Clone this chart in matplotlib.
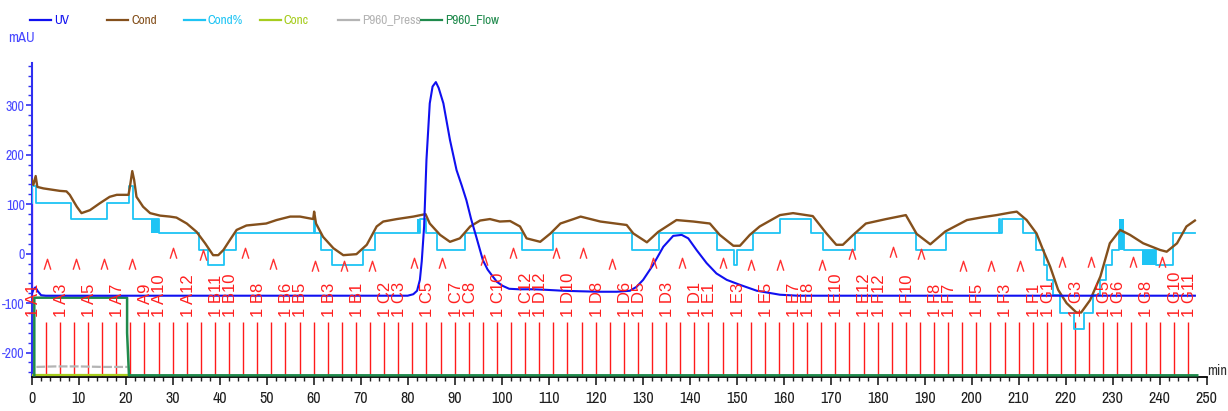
import matplotlib
matplotlib.use("Agg")
import matplotlib.pyplot as plt
from matplotlib import font_manager as fm
from matplotlib.lines import Line2D
from matplotlib.path import Path
from matplotlib.ticker import MultipleLocator

plt.rcParams['axes.unicode_minus'] = False

# UV trace (mAU)
uv_t = [0, 0.4, 0.8, 1.3, 2.0, 3.0, 20, 40, 60, 80, 81.2, 82.0, 82.6, 83.0, 83.5, 84.0,
        84.7, 85.3, 86.0, 86.6, 87.6, 89.0, 90.4, 91.5, 92.5, 93.5, 94.6, 96.0, 97.0,
        98.1, 99.0, 100.2, 101.6, 103.7, 106.6, 109.3, 113.1, 116.6, 120.9, 124.5,
        127.3, 128.7, 130.1, 132.2, 134.4, 136.5, 138.3, 139.7, 141.5, 143.6, 145.7,
        147.9, 150.7, 154.3, 159.2, 163.0, 180, 200, 220, 240, 247.5]
uv_v = [-82, -72, -68, -76, -84, -85, -85, -85, -85, -85, -82, -75, -53, -15, 55, 190,
        304, 338, 347, 335, 304, 230, 169, 138, 108, 70, 34, -13, -32,
        -46, -57, -65, -71, -72, -72, -73, -75, -76, -77, -77,
        -75, -67, -53, -23, 14, 36, 38, 31, 7, -19, -40,
        -53, -63, -75, -83, -85, -85, -85, -85, -85, -85]

# Conductivity
cond_t = [0, 0.35, 0.85, 1.2, 2.5, 6.0, 7.4, 8.1, 9.6, 10.6, 12.4, 14.5, 16.6, 18.1, 20.6,
          20.9, 21.4, 21.8, 22.3, 23.7, 25.2, 27.3, 29.4, 30.8, 33.0, 35.1, 36.9, 38.6,
          39.7, 40.8, 42.2, 43.6, 45.7, 49.9, 52.1, 55.0, 57.1, 59.9, 60.1, 60.5, 62.0,
          64.2, 66.3, 69.1, 71.3, 73.4, 74.8, 77.7, 81.2, 83.8, 84.7, 86.9, 89.0, 91.1,
          93.3, 95.4, 97.5, 99.6, 101.8, 103.9, 105.3, 108.2, 110.4, 112.5, 115.3, 116.8,
          121.0, 126.6, 128.0, 130.9, 133.3, 137.2, 140.8, 144.3, 146.4, 149.3, 150.7,
          152.8, 154.9, 159.2, 162.0, 166.2, 169.1, 171.2, 172.6, 174.8, 177.5, 181.8,
          186.0, 188.3, 191.2, 194.4, 199.0, 202.5, 205.3, 208.2, 209.6, 211.7, 213.8,
          215.2, 216.7, 218.4, 220.2, 222.3, 223.3, 225.2, 227.4, 229.4, 231.6, 233.7,
          236.5, 240.1, 241.5, 243.7, 245.7, 247.5]
cond_v = [150, 139, 157, 135, 132, 127, 126, 119, 95, 82, 88, 102, 115, 119, 119,
          135, 167, 149, 115, 95, 82, 77, 75, 73, 61, 44, 21, -3,
          -3, 7.5, 28, 48, 57, 61, 68, 75, 75, 70, 85, 61, 34,
          11, -3, -1, 18, 55, 65, 70, 75, 80, 61, 38, 24, 31,
          55, 67, 70, 65, 66, 55, 31, 24, 41, 61, 70, 75,
          65, 58, 41, 23, 44, 68, 65, 61, 38, 16, 16,
          38, 55, 78, 82, 76, 41, 18, 18, 38, 61, 70,
          78, 40, 19, 45, 68, 74, 78, 83, 85, 68, 41,
          7.5, -26, -73, -100, -119, -119, -94, -46, 21, 48, 38,
          21, 7.5, 4, 21, 55, 67]

# Cond% step levels (value holds until next time)
condp_t = [0, 0.15, 0.9, 8.4, 16.0, 20.7, 21.6, 27.1, 35.7, 37.6, 41.0, 43.5, 60.0, 60.2,
           61.6, 63.8, 70.6, 73.0, 82.0, 82.6, 84.0, 86.2, 92.3, 104.3, 110.9, 127.7,
           133.5, 145.9, 149.5, 150.0, 153.4, 159.2, 165.8, 168.3, 175.2, 188.1, 194.5,
           205.9, 206.1, 206.4, 210.9, 213.8, 215.3, 216.0, 217.3, 218.8, 221.8, 223.9,
           225.9, 227.3, 228.6, 229.8, 231.3, 232.5, 236.3, 239.3, 242.8, 247.5]
condp_v = [103, 137, 103, 70, 103, 137, 70, 42, 7.5, -23, 7.5, 42, 70, 42,
           7.5, -23, 7.5, 42, 42, 70, 42, 7.5, 42, 7.5, 42, 7.5,
           42, 7.5, -23, 7.5, 42, 70, 42, 7.5, 42, 7.5, 42,
           70, 42, 70, 42, 7.5, -23, -53, -83, -119, -153, -119,
           -83, -53, -23, 7.5, 42, 7.5, 7.5, -23, 42, 42]
# Cond% intervals with rapid switching: (start, end, low, high)
condp_bands = [(25.3, 27.1, 42, 70), (82.0, 82.6, 42, 70),
               (231.3, 232.5, 7.5, 70), (236.3, 239.3, -23, 7.5)]

# Concentration, pressure and flow
conc_t = [0, 20.6]
conc_v = [-246, -246]
press_t = [1.0, 5.0, 10.0, 15.0, 20.4]
press_v = [-229, -228, -228, -229, -229]
flow_t = [0.56, 0.56, 20.3, 20.3, 20.7, 248]
flow_v = [-246, -89, -89, -160, -246, -246]

# Fractions
frac_t = [0, 3, 6, 9, 12, 15, 18, 21, 24, 27, 30, 33, 36, 39, 42, 45, 48, 51, 54, 57, 60,
          63, 66, 69, 72, 75, 78, 81, 84, 87, 90, 93, 96, 99, 102, 105, 108, 111, 114,
          117, 120, 123, 126, 129, 132, 135, 138, 141, 144, 147, 150, 153, 156, 159, 162,
          165, 168, 171, 174, 177, 180, 183, 186, 189, 192, 195, 198, 201, 204, 207, 210,
          213, 216, 219, 222, 225, 228, 231, 234, 237, 240, 243, 246]
frac_names = ['A1', 'A2', 'A3', 'A4', 'A5', 'A6', 'A7', 'A8', 'A9', 'A10', 'A11', 'A12',
              'B12', 'B11', 'B10', 'B9', 'B8', 'B7', 'B6', 'B5', 'B4', 'B3', 'B2', 'B1',
              'C1', 'C2', 'C3', 'C4', 'C5', 'C6', 'C7', 'C8', 'C9', 'C10', 'C11', 'C12',
              'D12', 'D11', 'D10', 'D9', 'D8', 'D7', 'D6', 'D5', 'D4', 'D3', 'D2', 'D1',
              'E1', 'E2', 'E3', 'E4', 'E5', 'E6', 'E7', 'E8', 'E9', 'E10', 'E11', 'E12',
              'F12', 'F11', 'F10', 'F9', 'F8', 'F7', 'F6', 'F5', 'F4', 'F3', 'F2', 'F1',
              'G1', 'G2', 'G3', 'G4', 'G5', 'G6', 'G7', 'G8', 'G9', 'G10', 'G11']
frac_shown = ['A1', 'A3', 'A5', 'A7', 'A9', 'A10', 'A12', 'B11', 'B10', 'B8', 'B6', 'B5',
              'B3', 'B1', 'C2', 'C3', 'C5', 'C7', 'C8', 'C10', 'C12', 'D12', 'D10', 'D8',
              'D6', 'D5', 'D3', 'D1', 'E1', 'E3', 'E5', 'E7', 'E8', 'E10', 'E12', 'F12',
              'F10', 'F8', 'F7', 'F5', 'F3', 'F1', 'G1', 'G3', 'G5', 'G6', 'G8', 'G10', 'G11']

# Logbook marks
mark_t = [3.2, 9.4, 15.4, 21.3, 30.1, 36.4, 45.4, 51.4, 60.3, 66.5, 72.5, 81.4, 87.4,
          96.2, 102.4, 111.5, 117.4, 123.4, 132.2, 138.3, 147.1, 153.1, 159.3, 168.2,
          174.5, 183.3, 189.3, 198.2, 204.2, 210.3, 219.2, 225.3, 234.4, 240.4]
mark_v = [-20, -20, -20, -20, 2, -2, 2, -20, -25, -25, -25, -18, -18,
          -13, 2, 2, 2, -21, -19, -19, -19, -23, -23, -23,
          0, 4, 0, -25, -25, -25, -16, -16, -16, -16]

series_names = ['UV', 'Cond', 'Cond%', 'Conc', 'P960_Press', 'P960_Flow']
series_colors = ['#1010f0', '#84501c', '#1ec4f4', '#a6cc1e', '#b4b4b4', '#1f8a4c']

c_uv, c_cond, c_condp, c_conc, c_press, c_flow = series_colors
axis_blue = '#3030f0'

# narrow face for the axis and legend text, if one is installed
narrow = [f for f in fm.fontManager.ttflist
          if f.style == 'normal' and f.weight in (400, 'normal', 'regular')
          and ('Narrow' in f.name or 'Condensed' in f.name
               or f.stretch in ('condensed', 'semi-condensed'))]
narrow.sort(key=lambda f: 'Narrow' not in f.name)
if narrow:
    face = dict(fname=narrow[0].fname)
else:
    face = dict(family='Liberation Sans')
ytick_fp = fm.FontProperties(size=10, **face)
xtick_fp = fm.FontProperties(size=11.5, **face)
unit_fp = fm.FontProperties(size=10.5, **face)
legend_fp = fm.FontProperties(size=9.5, **face)

fig = plt.figure(figsize=(12.28, 4.11), dpi=100)
ax = fig.add_axes([0.0258, 0.0832, 0.9568, 0.7628])

# fractions
ax.vlines(frac_t, -249, -139, color='#ff1a1a', lw=1.0, zorder=2)
for t, name in zip(frac_t, frac_names):
    if name in frac_shown:
        ax.text(t + 0.3, -129, '1 ' + name, rotation=90, ha='center', va='bottom',
                color='#ff2020', fontsize=12, family=['Liberation Sans', 'DejaVu Sans'],
                zorder=6)

chevron = Path([(-0.32, -0.5), (0, 0.5), (0.32, -0.5)])
ax.plot(mark_t, mark_v, ls='none', marker=chevron, ms=7.5, mfc='none',
        mec='#ff3030', mew=1.0, zorder=6)

ax.axvline(0.15, ymin=0, ymax=0.6, color='#ff30ff', lw=1.0, zorder=1)

ax.plot(conc_t, conc_v, color=c_conc, lw=1.6, zorder=3)
ax.plot(press_t, press_v, color=c_press, lw=1.6, ls=(0, (4, 1)), zorder=3)
ax.plot(flow_t, flow_v, color=c_flow, lw=1.8, zorder=3)

ax.step(condp_t, condp_v, where='post', color=c_condp, lw=1.3, zorder=4)
for t0, t1, lo, hi in condp_bands:
    ax.fill_between([t0, t1], lo, hi, color=c_condp, lw=0, zorder=4)

ax.plot(cond_t, cond_v, color=c_cond, lw=1.7, zorder=5)
ax.plot(uv_t, uv_v, color=c_uv, lw=1.5, zorder=5)

ax.set_xlim(0, 250)
ax.set_ylim(-249, 385)
ax.spines['top'].set_visible(False)
ax.spines['right'].set_visible(False)
ax.spines['left'].set_color(axis_blue)
ax.spines['left'].set_linewidth(1.5)
ax.spines['bottom'].set_color('black')
ax.spines['bottom'].set_linewidth(1.3)

ax.xaxis.set_major_locator(MultipleLocator(10))
ax.xaxis.set_minor_locator(MultipleLocator(2))
ax.yaxis.set_minor_locator(MultipleLocator(20))
ax.set_yticks([-200, -100, 0, 100, 200, 300])
ax.tick_params(axis='x', which='major', length=6, width=1.2, pad=4, colors='#202020')
ax.tick_params(axis='x', which='minor', length=3, width=1.0, colors='#202020')
ax.tick_params(axis='y', which='major', length=4, width=1.2, pad=1,
               colors=axis_blue, labelcolor='#4848ff')
ax.tick_params(axis='y', which='minor', length=3, width=1.0, colors=axis_blue)
for lab in ax.get_xticklabels():
    lab.set_fontproperties(xtick_fp)
for lab in ax.get_yticklabels():
    lab.set_fontproperties(ytick_fp)

fig.text(0.007, 0.908, 'mAU', color='#4848ff', fontproperties=unit_fp,
         va='center', ha='left')
fig.text(1227 / 1228, 0.097, 'min', color='#303030', fontproperties=unit_fp,
         va='center', ha='right')

# legend row across the top
legend_x = [30, 107, 184, 260, 338, 421]
for x0, name, col in zip(legend_x, series_names, series_colors):
    fig.add_artist(Line2D([x0 / 1228, (x0 + 21) / 1228], [1 - 20 / 411] * 2,
                          color=col, lw=1.6))
    fig.text((x0 + 24) / 1228, 1 - 20 / 411, name, color=col, fontproperties=legend_fp,
             va='center', ha='left')

fig.savefig('out.png', dpi=100)
